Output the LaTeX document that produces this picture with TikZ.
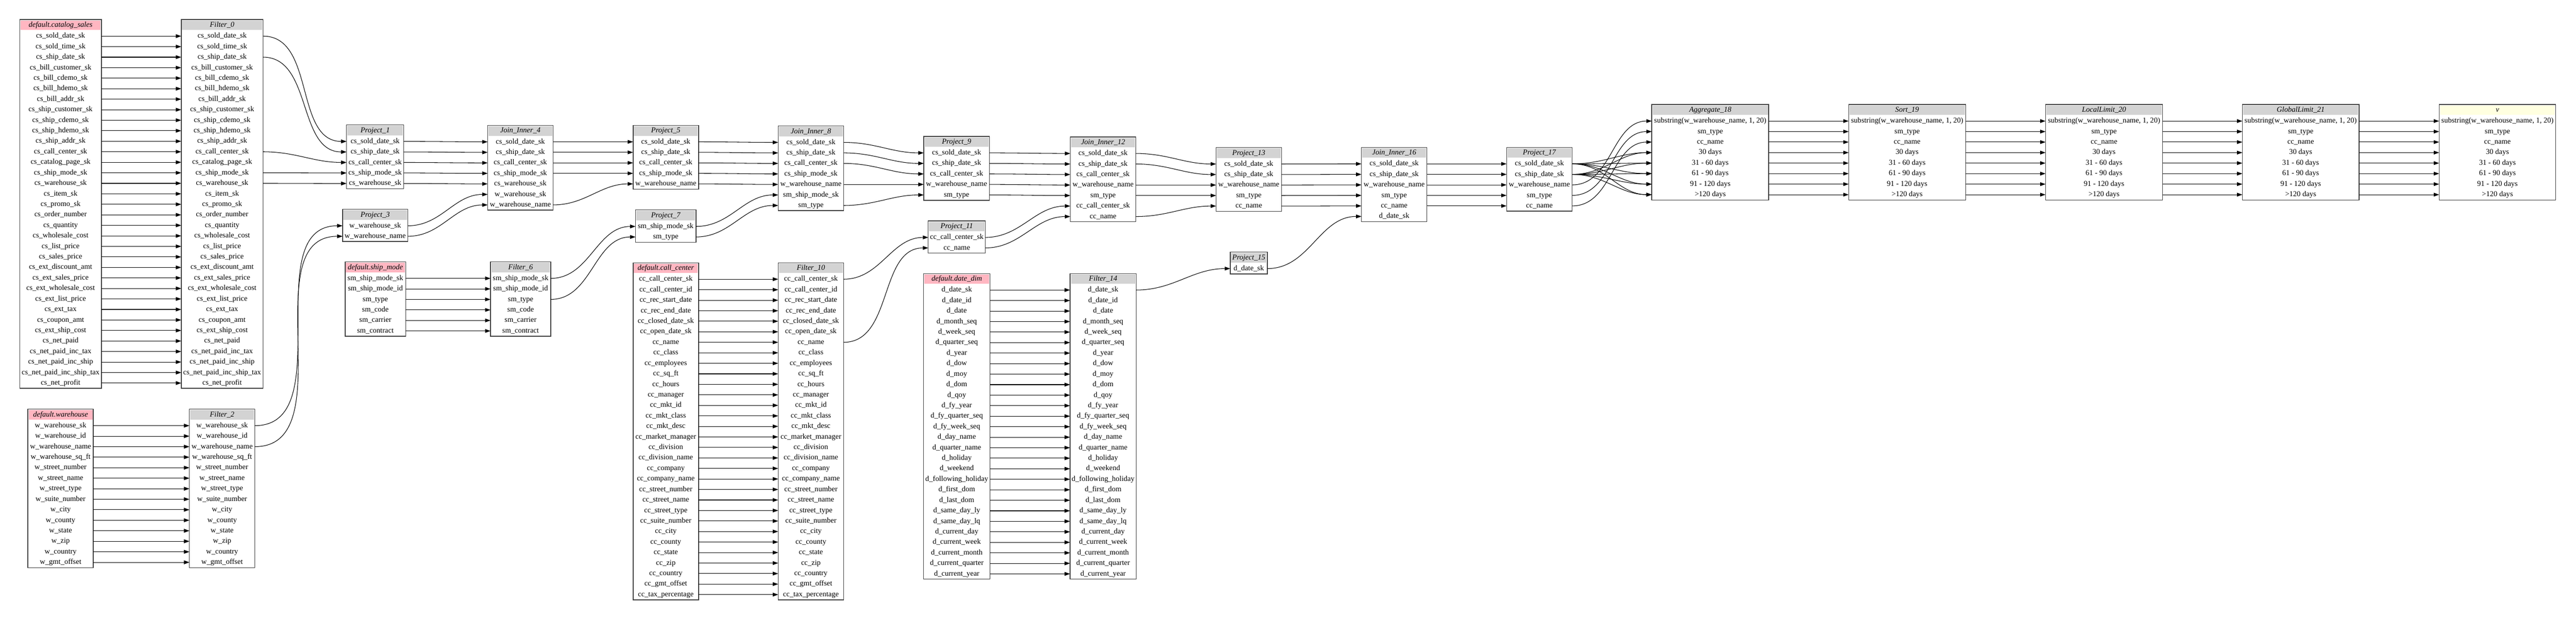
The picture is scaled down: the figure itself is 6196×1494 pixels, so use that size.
\documentclass[tikz,border=0pt]{standalone}
\usepackage{fontspec}
\setmainfont{Liberation Serif}
\usepackage{tikz}
\usetikzlibrary{arrows.meta}
\usepackage{xcolor}

\definecolor{tablepink}{HTML}{FFB6C1}
\definecolor{opgray}{HTML}{D3D3D3}
\definecolor{sinkyellow}{HTML}{FFFFE0}

% 各表的列名
\newcommand{\cscols}{cs\_sold\_date\_sk, cs\_sold\_time\_sk, cs\_ship\_date\_sk, cs\_bill\_customer\_sk, cs\_bill\_cdemo\_sk, cs\_bill\_hdemo\_sk, cs\_bill\_addr\_sk, cs\_ship\_customer\_sk, cs\_ship\_cdemo\_sk, cs\_ship\_hdemo\_sk, cs\_ship\_addr\_sk, cs\_call\_center\_sk, cs\_catalog\_page\_sk, cs\_ship\_mode\_sk, cs\_warehouse\_sk, cs\_item\_sk, cs\_promo\_sk, cs\_order\_number, cs\_quantity, cs\_wholesale\_cost, cs\_list\_price, cs\_sales\_price, cs\_ext\_discount\_amt, cs\_ext\_sales\_price, cs\_ext\_wholesale\_cost, cs\_ext\_list\_price, cs\_ext\_tax, cs\_coupon\_amt, cs\_ext\_ship\_cost, cs\_net\_paid, cs\_net\_paid\_inc\_tax, cs\_net\_paid\_inc\_ship, cs\_net\_paid\_inc\_ship\_tax, cs\_net\_profit}
\newcommand{\whcols}{w\_warehouse\_sk, w\_warehouse\_id, w\_warehouse\_name, w\_warehouse\_sq\_ft, w\_street\_number, w\_street\_name, w\_street\_type, w\_suite\_number, w\_city, w\_county, w\_state, w\_zip, w\_country, w\_gmt\_offset}
\newcommand{\smcols}{sm\_ship\_mode\_sk, sm\_ship\_mode\_id, sm\_type, sm\_code, sm\_carrier, sm\_contract}
\newcommand{\cccols}{cc\_call\_center\_sk, cc\_call\_center\_id, cc\_rec\_start\_date, cc\_rec\_end\_date, cc\_closed\_date\_sk, cc\_open\_date\_sk, cc\_name, cc\_class, cc\_employees, cc\_sq\_ft, cc\_hours, cc\_manager, cc\_mkt\_id, cc\_mkt\_class, cc\_mkt\_desc, cc\_market\_manager, cc\_division, cc\_division\_name, cc\_company, cc\_company\_name, cc\_street\_number, cc\_street\_name, cc\_street\_type, cc\_suite\_number, cc\_city, cc\_county, cc\_state, cc\_zip, cc\_country, cc\_gmt\_offset, cc\_tax\_percentage}
\newcommand{\ddcols}{d\_date\_sk, d\_date\_id, d\_date, d\_month\_seq, d\_week\_seq, d\_quarter\_seq, d\_year, d\_dow, d\_moy, d\_dom, d\_qoy, d\_fy\_year, d\_fy\_quarter\_seq, d\_fy\_week\_seq, d\_day\_name, d\_quarter\_name, d\_holiday, d\_weekend, d\_following\_holiday, d\_first\_dom, d\_last\_dom, d\_same\_day\_ly, d\_same\_day\_lq, d\_current\_day, d\_current\_week, d\_current\_month, d\_current\_quarter, d\_current\_year}
\newcommand{\aggcols}{{substring(w\_warehouse\_name, 1, 20)}, sm\_type, cc\_name, 30 days, 31 - 60 days, 61 - 90 days, 91 - 120 days, >120 days}

% 一个框: 名字, 左, 上, 宽, 表头样式, 标题, 列
\newcommand{\optable}[7]{%
    \node[head_cell={#4}, #5] (#1-0) at (#2,#3) {#6};
    \edef\rowlist{\unexpanded\expandafter{#7}}%
    \foreach \r [count=\i] in \rowlist {
        \node[row_cell={#4}] (#1-\i) at ({#2},{#3+27+(\i-1)*25.3}) {\r};
        \xdef\lastrow{\i}
    }
    \draw[box_frame] (#1-0.north west) rectangle (#1-\lastrow.south east);
}

\begin{document}
\begin{tikzpicture}[x=0.5pt, y=-0.5pt]
    % ================= 样式定义 =================
    \tikzset{
        % 表头
        head_cell/.style={anchor=north west, minimum width=#1*0.5pt, minimum height=13.5pt, inner sep=0pt, outer sep=0pt,
            font=\fontsize{9}{10}\selectfont\itshape, text height=6.5pt, text depth=2pt, draw=white, line width=2pt},
        table_head/.style={fill=tablepink},
        op_head/.style={fill=opgray},
        sink_head/.style={fill=sinkyellow},
        % 一列
        row_cell/.style={anchor=north west, minimum width=#1*0.5pt, minimum height=12.65pt, inner sep=0pt, outer sep=0pt,
            font=\fontsize{9}{10}\selectfont, text height=6.5pt, text depth=2pt},
        % 外框
        box_frame/.style={draw=black!75, line width=0.9pt},
        % 列之间的连线
        col_link/.style={line width=0.65pt, -{Triangle[length=6.5pt, width=4.5pt]}}
    }
    \useasboundingbox (0,0) rectangle (6196,1494);

    % ================= 源表与过滤 =================
    \optable{cs}{47.5}{47.3}{196.5}{table_head}{default.catalog\_sales}{\cscols}
    \optable{f0}{436}{47.3}{196.6}{op_head}{Filter\_0}{\cscols}
    \optable{wh}{67}{984.7}{157.5}{table_head}{default.warehouse}{\whcols}
    \optable{f2}{455.6}{984.7}{157.4}{op_head}{Filter\_2}{\whcols}
    \optable{sm}{830}{630.3}{145.6}{table_head}{default.ship\_mode}{\smcols}
    \optable{f6}{1179.7}{630.3}{144.9}{op_head}{Filter\_6}{\smcols}
    \optable{cc}{1522.7}{632.3}{157.5}{table_head}{default.call\_center}{\cccols}
    \optable{f10}{1871.7}{632.3}{157.5}{op_head}{Filter\_10}{\cccols}
    \optable{dd}{2221.2}{658.3}{160.2}{table_head}{default.date\_dim}{\ddcols}
    \optable{f14}{2573.7}{658.3}{159}{op_head}{Filter\_14}{\ddcols}

    % ================= 投影与连接 =================
    \optable{p1}{833.6}{300.7}{137.4}{op_head}{Project\_1}{cs\_sold\_date\_sk, cs\_ship\_date\_sk, cs\_call\_center\_sk, cs\_ship\_mode\_sk, cs\_warehouse\_sk}
    \optable{p3}{823.9}{503.7}{157.1}{op_head}{Project\_3}{w\_warehouse\_sk, w\_warehouse\_name}
    \optable{ji4}{1172.9}{301.7}{157.5}{op_head}{Join\_Inner\_4}{cs\_sold\_date\_sk, cs\_ship\_date\_sk, cs\_call\_center\_sk, cs\_ship\_mode\_sk, cs\_warehouse\_sk, w\_warehouse\_sk, w\_warehouse\_name}
    \optable{p5}{1522.7}{301.7}{157.5}{op_head}{Project\_5}{cs\_sold\_date\_sk, cs\_ship\_date\_sk, cs\_call\_center\_sk, cs\_ship\_mode\_sk, w\_warehouse\_name}
    \optable{p7}{1528.5}{505.3}{145.4}{op_head}{Project\_7}{sm\_ship\_mode\_sk, sm\_type}
    \optable{ji8}{1871.7}{303}{157.5}{op_head}{Join\_Inner\_8}{cs\_sold\_date\_sk, cs\_ship\_date\_sk, cs\_call\_center\_sk, cs\_ship\_mode\_sk, w\_warehouse\_name, sm\_ship\_mode\_sk, sm\_type}
    \optable{p9}{2221.8}{328.3}{157.9}{op_head}{Project\_9}{cs\_sold\_date\_sk, cs\_ship\_date\_sk, cs\_call\_center\_sk, w\_warehouse\_name, sm\_type}
    \optable{p11}{2232.7}{531.7}{137.3}{op_head}{Project\_11}{cc\_call\_center\_sk, cc\_name}
    \optable{ji12}{2574.3}{329.7}{157.7}{op_head}{Join\_Inner\_12}{cs\_sold\_date\_sk, cs\_ship\_date\_sk, cs\_call\_center\_sk, w\_warehouse\_name, sm\_type, cc\_call\_center\_sk, cc\_name}
    \optable{p13}{2925}{355}{157.3}{op_head}{Project\_13}{cs\_sold\_date\_sk, cs\_ship\_date\_sk, w\_warehouse\_name, sm\_type, cc\_name}
    \optable{p15}{2958.9}{606.7}{89.6}{op_head}{Project\_15}{d\_date\_sk}
    \optable{ji16}{3274.7}{354.7}{157.3}{op_head}{Join\_Inner\_16}{cs\_sold\_date\_sk, cs\_ship\_date\_sk, w\_warehouse\_name, sm\_type, cc\_name, d\_date\_sk}
    \optable{p17}{3623.7}{354.7}{157.9}{op_head}{Project\_17}{cs\_sold\_date\_sk, cs\_ship\_date\_sk, w\_warehouse\_name, sm\_type, cc\_name}

    % ================= 聚合, 排序, 限制 =================
    \optable{agg18}{3973}{251.7}{281.3}{op_head}{Aggregate\_18}{\aggcols}
    \optable{sort19}{4446.5}{251.7}{281.3}{op_head}{Sort\_19}{\aggcols}
    \optable{ll20}{4920}{251.7}{281.5}{op_head}{LocalLimit\_20}{\aggcols}
    \optable{gl21}{5393.5}{251.7}{280.5}{op_head}{GlobalLimit\_21}{\aggcols}
    \optable{v}{5866.7}{251.7}{280.6}{sink_head}{v}{\aggcols}

    % ================= 连线 =================
    \foreach \i in {1,...,34} \draw[col_link] (cs-\i.east) -- (f0-\i.west);
    \foreach \i in {1,...,14} \draw[col_link] (wh-\i.east) -- (f2-\i.west);
    \foreach \i in {1,...,6} \draw[col_link] (sm-\i.east) -- (f6-\i.west);
    \foreach \i in {1,...,31} \draw[col_link] (cc-\i.east) -- (f10-\i.west);
    \foreach \i in {1,...,28} \draw[col_link] (dd-\i.east) -- (f14-\i.west);

    \foreach \a/\b in {1/1, 3/2, 12/3, 14/4, 15/5} \draw[col_link] (f0-\a.east) to[out=0, in=180] (p1-\b.west);
    \foreach \a/\b in {1/1, 3/2} \draw[col_link] (f2-\a.east) to[out=0, in=180] (p3-\b.west);
    \foreach \a/\b in {1/1, 3/2} \draw[col_link] (f6-\a.east) to[out=0, in=180] (p7-\b.west);
    \foreach \a/\b in {1/1, 7/2} \draw[col_link] (f10-\a.east) to[out=0, in=180] (p11-\b.west);
    \draw[col_link] (f14-1.east) to[out=0, in=180] (p15-1.west);

    % 投影 -> 连接
    \foreach \i in {1,...,5} \draw[col_link] (p1-\i.east) to[out=0, in=180] (ji4-\i.west);
    \foreach \a/\b in {1/6, 2/7} \draw[col_link] (p3-\a.east) to[out=0, in=180] (ji4-\b.west);
    \foreach \i in {1,...,5} \draw[col_link] (p5-\i.east) to[out=0, in=180] (ji8-\i.west);
    \foreach \a/\b in {1/6, 2/7} \draw[col_link] (p7-\a.east) to[out=0, in=180] (ji8-\b.west);
    \foreach \i in {1,...,5} \draw[col_link] (p9-\i.east) to[out=0, in=180] (ji12-\i.west);
    \foreach \a/\b in {1/6, 2/7} \draw[col_link] (p11-\a.east) to[out=0, in=180] (ji12-\b.west);
    \foreach \i in {1,...,5} \draw[col_link] (p13-\i.east) to[out=0, in=180] (ji16-\i.west);
    \draw[col_link] (p15-1.east) to[out=0, in=180] (ji16-6.west);

    % 连接 -> 投影
    \foreach \a/\b in {1/1, 2/2, 3/3, 4/4, 7/5} \draw[col_link] (ji4-\a.east) to[out=0, in=180] (p5-\b.west);
    \foreach \a/\b in {1/1, 2/2, 3/3, 5/4, 7/5} \draw[col_link] (ji8-\a.east) to[out=0, in=180] (p9-\b.west);
    \foreach \a/\b in {1/1, 2/2, 4/3, 5/4, 7/5} \draw[col_link] (ji12-\a.east) to[out=0, in=180] (p13-\b.west);
    \foreach \i in {1,...,5} \draw[col_link] (ji16-\i.east) to[out=0, in=180] (p17-\i.west);

    % 投影 -> 聚合 (两个日期列各进五个区间列)
    \foreach \a/\b in {3/1, 4/2, 5/3, 1/4, 1/5, 1/6, 1/7, 1/8, 2/4, 2/5, 2/6, 2/7, 2/8}
        \draw[col_link] (p17-\a.east) to[out=0, in=180] (agg18-\b.west);

    \foreach \i in {1,...,8} {
        \draw[col_link] (agg18-\i.east) -- (sort19-\i.west);
        \draw[col_link] (sort19-\i.east) -- (ll20-\i.west);
        \draw[col_link] (ll20-\i.east) -- (gl21-\i.west);
        \draw[col_link] (gl21-\i.east) -- (v-\i.west);
    }
\end{tikzpicture}
\end{document}
